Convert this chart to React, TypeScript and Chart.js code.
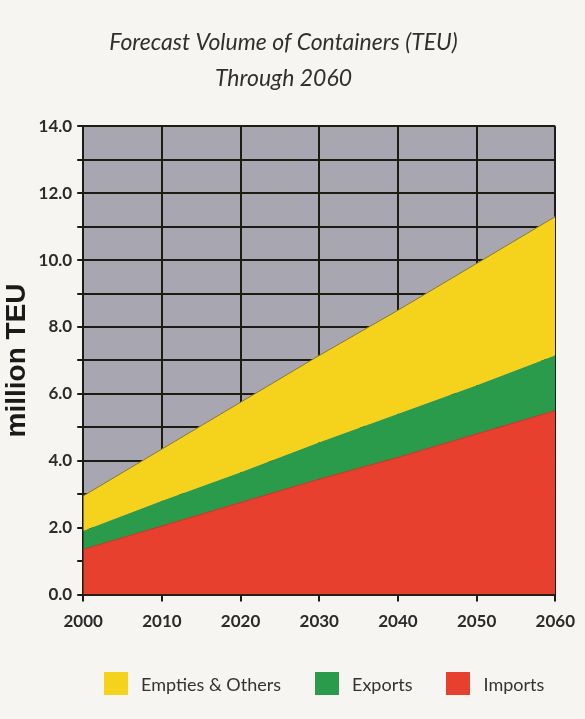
import React, { useEffect, useRef } from "react";
import { Chart, registerables } from "chart.js";

Chart.register(...registerables);

const years = [2000, 2010, 2020, 2030, 2040, 2050, 2060];
const imports = [1.35, 2.05, 2.75, 3.45, 4.1, 4.8, 5.5];
const exportsV = [0.55, 0.75, 0.9, 1.1, 1.3, 1.45, 1.65];
const empties = [1.05, 1.55, 2.1, 2.6, 3.1, 3.65, 4.15];
const titleLines = ["Forecast Volume of Containers (TEU)", "Through 2060"];
const yTitle = "million TEU";
const legendLabels = ["Empties & Others", "Exports", "Imports"];
const legendColors = ["#f5d31d", "#2a9a4b", "#e7402f"];

const plotBg = {
  id: "plotBg",
  beforeDraw(chart: any) {
    const { ctx, chartArea } = chart;
    if (!chartArea) return;
    ctx.save();
    ctx.fillStyle = "#a8a6b0";
    ctx.fillRect(chartArea.left, chartArea.top, chartArea.right - chartArea.left, chartArea.bottom - chartArea.top);
    ctx.restore();
  },
};

export default function App() {
  const ref = useRef<HTMLCanvasElement | null>(null);
  useEffect(() => {
    document.body.style.margin = "0";
    document.body.style.background = "#f6f5f2";
    const canvas = ref.current!;
    const pts = (arr: number[]) => arr.map((v, i) => ({ x: years[i], y: v }));
    const tickFont = { family: "Lato, sans-serif", size: 17, weight: "bold" as const };
    const chart = new Chart(canvas, {
      type: "line",
      data: {
        datasets: [
          { label: "Imports", data: pts(imports), fill: "origin", backgroundColor: legendColors[2], borderColor: "#c9352a", borderWidth: 1, pointRadius: 0 },
          { label: "Exports", data: pts(exportsV), fill: "-1", backgroundColor: legendColors[1], borderColor: legendColors[1], borderWidth: 0, pointRadius: 0 },
          { label: "Empties & Others", data: pts(empties), fill: "-1", backgroundColor: legendColors[0], borderColor: "#8a7a2a", borderWidth: 1, pointRadius: 0 },
        ],
      },
      options: {
        responsive: false,
        animation: false,
        devicePixelRatio: 1,
        layout: { padding: { left: 0, right: 18, bottom: 77 } },
        scales: {
          x: {
            type: "linear",
            min: 2000,
            max: 2060,
            ticks: { stepSize: 10, color: "#2b2b2b", font: tickFont, padding: 10, callback: (v: any) => String(v) },
            grid: { color: "#1c1c12", lineWidth: 2, tickLength: 7 },
            border: { color: "#1c1c12", width: 2 },
          },
          y: {
            stacked: true,
            min: 0,
            max: 14,
            ticks: {
              stepSize: 1,
              color: "#2b2b2b",
              font: tickFont,
              padding: 5,
              callback: (v: any) => (Number(v) % 2 === 0 ? Number(v).toFixed(1) : ""),
            },
            grid: { color: "#1c1c12", lineWidth: 2, tickLength: 6 },
            border: { color: "#1c1c12", width: 2 },
            title: {
              display: true,
              text: yTitle,
              color: "#1a1a1a",
              font: { family: "'Liberation Sans', Arial, sans-serif", size: 28, weight: "bold" },
              padding: { top: 0, bottom: 0 },
            },
          },
        },
        plugins: {
          title: {
            display: true,
            text: titleLines,
            color: "#303030",
            font: { family: "'Lato', 'Open Sans', sans-serif", size: 23, style: "italic", weight: "normal", lineHeight: 1.55 },
            padding: { top: 25, bottom: 30 },
          },
          legend: { display: false },
          tooltip: { enabled: false },
        },
      },
      plugins: [plotBg],
    } as any);
    return () => chart.destroy();
  }, []);
  return (
    <div style={{ position: "relative", width: 585, height: 719 }}>
      <canvas ref={ref} width={585} height={719} style={{ display: "block" }} />
      <div
        style={{
          position: "absolute",
          left: 104,
          top: 672,
          display: "flex",
          alignItems: "center",
          fontFamily: "Lato, sans-serif",
          fontSize: 18,
          color: "#333333",
        }}
      >
        {legendLabels.map((l, i) => (
          <div key={l} style={{ display: "flex", alignItems: "center", marginRight: i < legendLabels.length - 1 ? 34 : 0 }}>
            <span style={{ display: "inline-block", width: 24, height: 23, background: legendColors[i], marginRight: 13 }} />
            <span>{l}</span>
          </div>
        ))}
      </div>
    </div>
  );
}
